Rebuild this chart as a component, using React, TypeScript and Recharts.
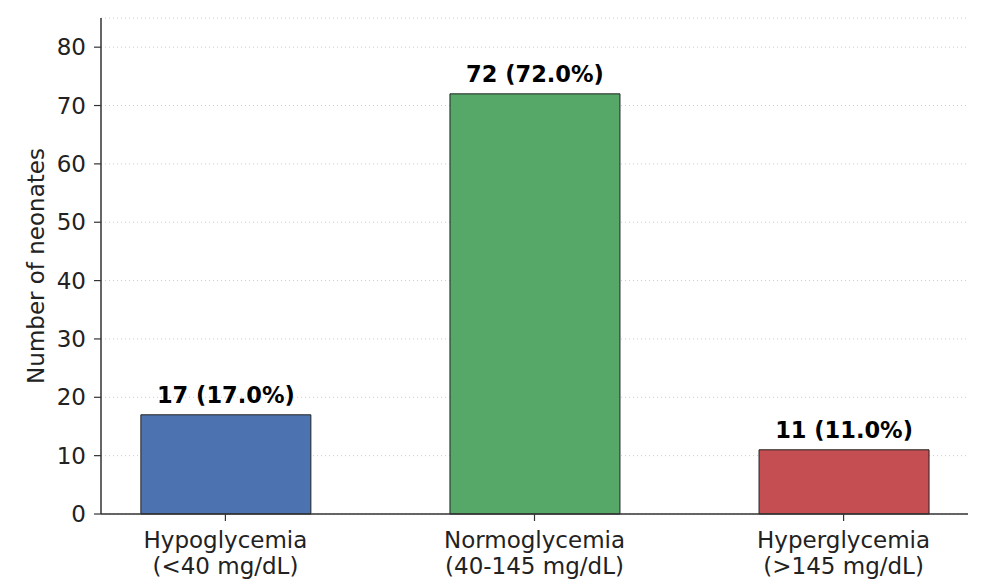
import React from 'react';
import { BarChart, Bar, XAxis, YAxis, CartesianGrid, Cell, LabelList } from 'recharts';

const categoryNames = ['Hypoglycemia', 'Normoglycemia', 'Hyperglycemia'];
const categoryRanges = ['(<40 mg/dL)', '(40-145 mg/dL)', '(>145 mg/dL)'];
const counts = [17, 72, 11];
const percents = [17.0, 72.0, 11.0];
const barColors = ['#4c72b0', '#55a868', '#c44e52'];
const yTicks = [0, 10, 20, 30, 40, 50, 60, 70, 80];

const data = counts.map((count, i) => ({
  pos: i,
  count,
  label: `${count} (${percents[i].toFixed(1)}%)`,
}));

const FONT = '"DejaVu Sans", sans-serif';
const AXIS = '#333333';

const CategoryTick = (props: any) => {
  const { x, y, payload } = props;
  const i = payload.value as number;
  return (
    <text x={x} y={y} textAnchor="middle" fontFamily={FONT} fontSize={23} fill="#222">
      <tspan x={x} dy={25}>{categoryNames[i]}</tspan>
      <tspan x={x} dy={26}>{categoryRanges[i]}</tspan>
    </text>
  );
};

export default function App() {
  return (
    <div style={{ position: 'absolute', left: 0, top: 0, background: '#fff' }}>
      <BarChart
        width={986}
        height={579}
        data={data}
        margin={{ top: 18, right: 18, bottom: 0, left: 0 }}
      >
        <CartesianGrid vertical={false} stroke="#cccccc" strokeDasharray="1 3" />
        <XAxis
          type="number"
          dataKey="pos"
          domain={[-0.4025, 2.4025]}
          ticks={[0, 1, 2]}
          height={65}
          tick={<CategoryTick />}
          tickSize={7}
          stroke={AXIS}
          axisLine={{ stroke: AXIS, strokeWidth: 1.5 }}
          tickLine={{ stroke: AXIS, strokeWidth: 1.2 }}
        />
        <YAxis
          type="number"
          domain={[0, 85]}
          ticks={yTicks}
          width={101}
          tickSize={7}
          tickMargin={8}
          axisLine={{ stroke: AXIS, strokeWidth: 1.5 }}
          tickLine={{ stroke: AXIS, strokeWidth: 1.2 }}
          tick={{ fontFamily: FONT, fontSize: 23, fill: '#222' }}
          label={{
            value: 'Number of neonates',
            angle: -90,
            position: 'center',
            dx: -15,
            style: { fontFamily: FONT, fontSize: 23, fill: '#222' },
          }}
        />
        <Bar dataKey="count" barSize={170} stroke="#222" strokeWidth={1} isAnimationActive={false}>
          {data.map((d, i) => (
            <Cell key={d.pos} fill={barColors[i]} />
          ))}
          <LabelList
            dataKey="label"
            position="top"
            offset={12}
            style={{ fontFamily: FONT, fontSize: 22.5, fontWeight: 'bold', fill: '#000' }}
          />
        </Bar>
      </BarChart>
    </div>
  );
}
